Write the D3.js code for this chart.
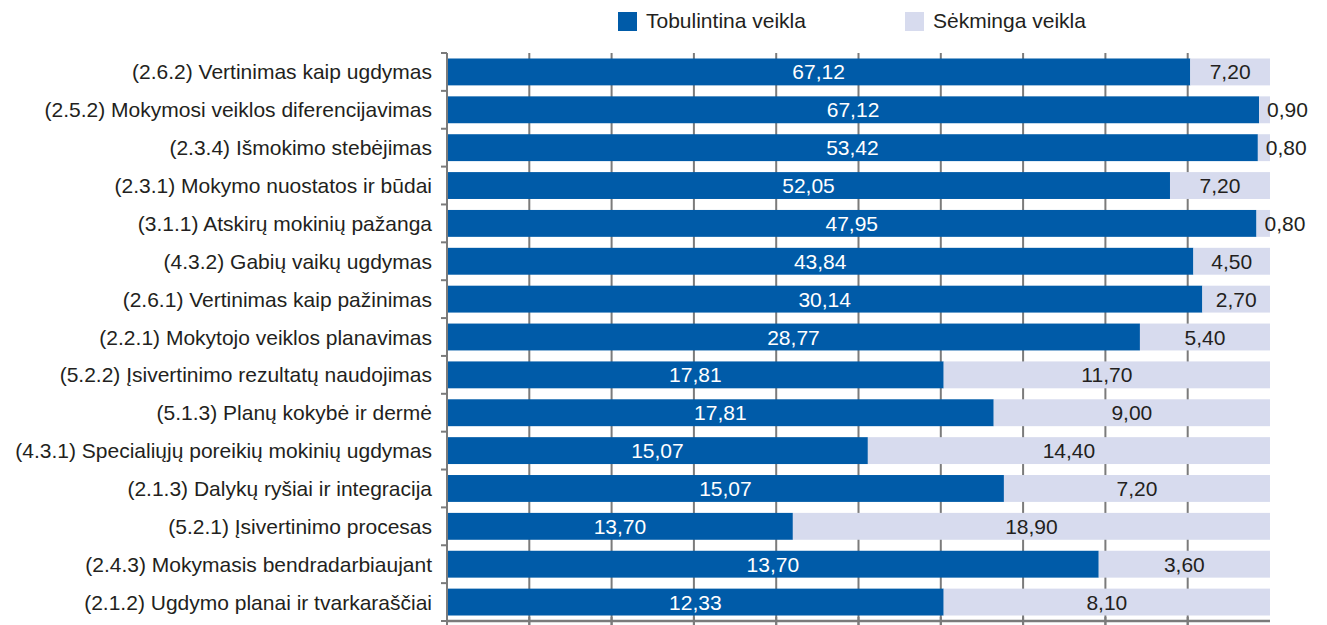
<!DOCTYPE html>
<html><head><meta charset="utf-8">
<script src="https://cdn.jsdelivr.net/npm/d3@7"></script>
<style>body{margin:0;background:#fff}svg{display:block}text{font-family:"Liberation Sans",Arial,Helvetica,sans-serif}</style>
</head><body><svg id="c" width="1327" height="625"></svg>
<script>
const categories = [
  "(2.6.2) Vertinimas kaip ugdymas",
  "(2.5.2) Mokymosi veiklos diferencijavimas",
  "(2.3.4) Išmokimo stebėjimas",
  "(2.3.1) Mokymo nuostatos ir būdai",
  "(3.1.1) Atskirų mokinių pažanga",
  "(4.3.2) Gabių vaikų ugdymas",
  "(2.6.1) Vertinimas kaip pažinimas",
  "(2.2.1) Mokytojo veiklos planavimas",
  "(5.2.2) Įsivertinimo rezultatų naudojimas",
  "(5.1.3) Planų kokybė ir dermė",
  "(4.3.1) Specialiųjų poreikių mokinių ugdymas",
  "(2.1.3) Dalykų ryšiai ir integracija",
  "(5.2.1) Įsivertinimo procesas",
  "(2.4.3) Mokymasis bendradarbiaujant",
  "(2.1.2) Ugdymo planai ir tvarkaraščiai"
];
const tobulintina = [67.12,67.12,53.42,52.05,47.95,43.84,30.14,28.77,17.81,17.81,15.07,15.07,13.70,13.70,12.33];
const sekminga    = [7.20,0.90,0.80,7.20,0.80,4.50,2.70,5.40,11.70,9.00,14.40,7.20,18.90,3.60,8.10];
const seriesNames = ["Tobulintina veikla","Sėkminga veikla"];
const xTicks = [0,0.1,0.2,0.3,0.4,0.5,0.6,0.7,0.8,0.9,1];

const colors = ["#005ba8","#d7dbee"];
const fmt = v => v.toFixed(2).replace(".", ",");
const svg = d3.select("#c");
const x = d3.scaleLinear().domain([0,1]).range([447,1270]);
const y = d3.scaleBand().domain(categories).range([53,621]).paddingInner(0.29).paddingOuter(0.145);
const grid = "#7b7b7b";
const FS = 21;

// grid lines
svg.append("g").selectAll("line").data(xTicks.slice(1,-1)).join("line")
  .attr("x1",d=>x(d)).attr("x2",d=>x(d)).attr("y1",53).attr("y2",625)
  .attr("stroke",grid).attr("stroke-width",2);

const rows = categories.map((c,i)=>({c, a:tobulintina[i], b:sekminga[i], t:tobulintina[i]+sekminga[i]}));
const g = svg.append("g").selectAll("g").data(rows).join("g");
g.append("rect").attr("x",x(0)).attr("y",d=>y(d.c)).attr("height",y.bandwidth())
  .attr("width",d=>x(d.a/d.t)-x(0)).attr("fill",colors[0]);
g.append("rect").attr("x",d=>x(d.a/d.t)).attr("y",d=>y(d.c)).attr("height",y.bandwidth())
  .attr("width",d=>x(1)-x(d.a/d.t)).attr("fill",colors[1]);
g.append("text").attr("x",d=>(x(0)+x(d.a/d.t))/2).attr("y",d=>y(d.c)+y.bandwidth()/2).attr("dy","0.36em")
  .attr("text-anchor","middle").attr("fill","#fff").attr("font-size",FS).text(d=>fmt(d.a));
const narrow = d => (x(1)-x(d.a/d.t)) < 50;
g.append("text").attr("x",d=>narrow(d) ? x(d.a/d.t)+8 : (x(d.a/d.t)+x(1))/2)
  .attr("text-anchor",d=>narrow(d)?"start":"middle")
  .attr("y",d=>y(d.c)+y.bandwidth()/2).attr("dy","0.36em")
  .attr("fill","#231f20").attr("font-size",FS).text(d=>fmt(d.b));

// y axis
const yAxis = svg.append("g").attr("transform","translate(447,0)");
yAxis.append("line").attr("x1",0).attr("x2",0).attr("y1",53).attr("y2",625).attr("stroke",grid).attr("stroke-width",2);
yAxis.selectAll("line.t").data(d3.range(categories.length+1)).join("line").attr("class","t")
  .attr("x1",-6).attr("x2",0).attr("y1",i=>53+i*y.step()).attr("y2",i=>53+i*y.step())
  .attr("stroke",grid).attr("stroke-width",2);
yAxis.selectAll("text").data(categories).join("text")
  .attr("x",-15).attr("y",d=>y(d)+y.bandwidth()/2).attr("dy","0.36em").attr("text-anchor","end")
  .attr("fill","#231f20").attr("font-size",FS).text(d=>d);

// x axis bottom
const xAxis = svg.append("g");
xAxis.append("line").attr("x1",447).attr("x2",1270).attr("y1",621).attr("y2",621).attr("stroke",grid).attr("stroke-width",2.5);
xAxis.selectAll("line.t").data(xTicks.slice(0,-1)).join("line").attr("class","t")
  .attr("x1",d=>x(d)).attr("x2",d=>x(d)).attr("y1",617).attr("y2",625).attr("stroke",grid).attr("stroke-width",2);

// legend
const leg = svg.append("g");
const lx = [618,905];
seriesNames.forEach((n,i)=>{
  leg.append("rect").attr("x",lx[i]).attr("y",12).attr("width",19).attr("height",19).attr("fill",colors[i]);
  leg.append("text").attr("x",lx[i]+28).attr("y",20.5).attr("dy","0.36em").attr("font-size",FS).attr("fill","#231f20").text(n);
});
</script></body></html>
